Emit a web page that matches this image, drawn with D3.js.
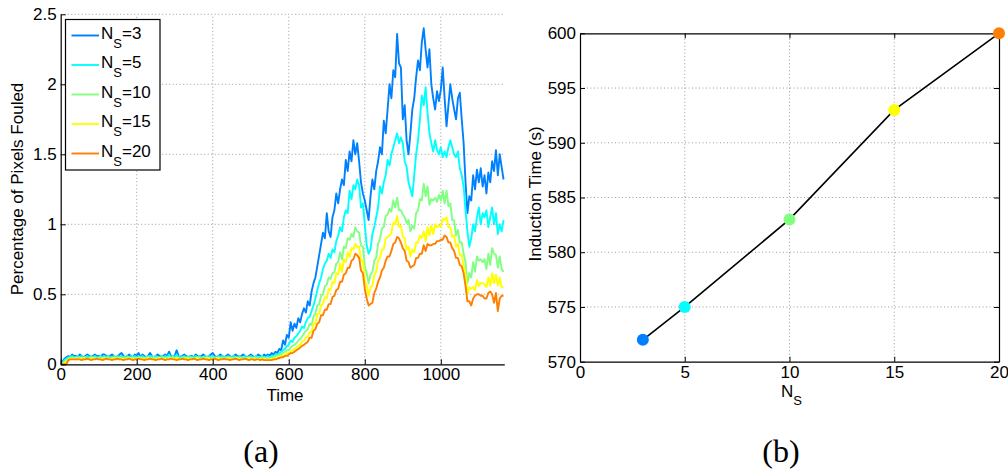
<!DOCTYPE html>
<html><head><meta charset="utf-8">
<script src="https://cdn.jsdelivr.net/npm/d3@7"></script>
<style>
body{margin:0;background:#fff}
svg text{font-family:"Liberation Sans",Arial,Helvetica,sans-serif;fill:#000}
</style>
</head><body>
<svg id="chart" width="1008" height="472"></svg>
<script>
// ---------- DATA ----------
const seriesLabels = ["3", "5", "10", "15", "20"];
const timeStep = 5; // samples every 5 time units, starting at 0

const ns3 = [
  0,.02,.04,.05,.06,.05,.07,.06,.06,.05,
  .07,.06,.05,.06,.07,.06,.05,.06,.07,.06,
  .06,.05,.07,.07,.06,.05,.06,.07,.06,.05,
  .06,.07,.08,.06,.05,.06,.07,.06,.05,.07,
  .06,.08,.05,.07,.06,.05,.06,.08,.06,.05,
  .06,.07,.06,.05,.06,.07,.06,.09,.06,.05,
  .06,.10,.06,.05,.06,.07,.06,.05,.06,.06,
  .05,.07,.06,.05,.06,.07,.06,.05,.06,.07,
  .08,.06,.05,.06,.07,.06,.05,.06,.07,.06,
  .05,.06,.07,.06,.05,.06,.07,.06,.05,.06,
  .07,.06,.05,.06,.07,.06,.05,.07,.06,.07,
  .06,.08,.07,.09,.08,.11,.10,.17,.14,.21,
  .19,.30,.24,.29,.26,.33,.30,.36,.40,.37,
  .45,.42,.52,.58,.62,.70,.78,.86,.94,.90,
  1.08,.95,.91,1.05,1.10,1.22,1.15,1.25,1.32,1.28,
  1.46,1.38,1.52,1.45,1.60,1.50,1.58,1.45,1.30,1.22,
  1.17,1.10,1.03,1.20,1.32,1.25,1.38,1.45,1.55,1.50,
  1.74,1.65,1.82,2.00,1.90,2.10,2.05,2.36,2.15,2.12,
  1.75,1.85,1.60,1.50,1.65,1.82,1.90,2.05,2.17,2.10,
  2.30,2.40,2.25,2.12,2.25,2.00,1.90,1.82,1.95,1.88,
  1.96,2.12,1.90,1.70,1.85,2.00,1.90,1.82,1.75,1.90,
  1.94,1.75,1.58,1.30,1.08,1.20,1.17,1.35,1.25,1.39,
  1.30,1.40,1.27,1.35,1.22,1.37,1.30,1.45,1.38,1.53,
  1.35,1.50,1.41,1.32
];
const ns5 = [
  0,.01,.03,.04,.05,.05,.06,.05,.05,.06,
  .05,.06,.05,.05,.06,.05,.06,.05,.06,.05,
  .05,.06,.05,.06,.05,.06,.05,.05,.06,.05,
  .06,.05,.06,.05,.05,.06,.05,.06,.05,.06,
  .05,.06,.05,.06,.05,.05,.06,.05,.06,.05,
  .06,.05,.05,.06,.05,.06,.05,.07,.05,.06,
  .05,.07,.05,.06,.05,.06,.05,.05,.06,.05,
  .05,.06,.05,.06,.05,.05,.06,.05,.06,.05,
  .06,.05,.05,.06,.05,.06,.05,.05,.06,.05,
  .05,.06,.05,.05,.06,.05,.05,.06,.05,.05,
  .06,.05,.05,.06,.05,.05,.06,.05,.05,.06,
  .05,.06,.06,.07,.07,.08,.09,.10,.11,.13,
  .14,.17,.16,.19,.20,.22,.24,.27,.26,.30,
  .33,.34,.38,.42,.47,.53,.58,.62,.68,.72,
  .74,.79,.76,.82,.80,.88,.92,.98,.95,1.05,
  1.10,1.08,1.24,1.18,1.28,1.25,1.32,1.28,1.12,1.15,
  1.00,.85,.79,.82,.93,.98,1.05,1.12,1.27,1.22,
  1.30,1.35,1.46,1.42,1.50,1.55,1.60,1.65,1.58,1.62,
  1.58,1.45,1.41,1.30,1.25,1.20,1.35,1.50,1.60,1.75,
  1.92,1.85,1.98,1.80,1.65,1.58,1.52,1.60,1.53,1.50,
  1.55,1.48,1.52,1.48,1.55,1.60,1.55,1.50,1.48,1.52,
  1.40,1.35,1.27,1.10,.95,.84,.90,1.00,.95,1.05,
  1.12,1.00,1.08,1.05,1.10,.98,1.05,1.12,1.00,1.08,
  .93,1.00,.95,1.03
];
const ns10 = [
  0,0,.02,.03,.04,.045,.05,.04,.05,.045,
  .05,.04,.045,.05,.045,.04,.05,.045,.05,.04,
  .045,.05,.04,.05,.045,.05,.04,.045,.05,.045,
  .05,.045,.04,.05,.045,.05,.045,.04,.05,.045,
  .04,.05,.045,.05,.04,.045,.05,.045,.04,.05,
  .045,.05,.04,.045,.05,.045,.05,.04,.045,.05,
  .045,.05,.045,.04,.05,.045,.04,.05,.045,.05,
  .04,.045,.05,.045,.04,.05,.045,.05,.04,.045,
  .05,.045,.04,.05,.045,.04,.05,.045,.04,.05,
  .045,.04,.05,.045,.04,.045,.05,.04,.045,.05,
  .045,.04,.05,.045,.04,.045,.05,.04,.045,.04,
  .04,.05,.05,.06,.06,.07,.07,.08,.09,.10,
  .10,.12,.13,.14,.15,.17,.18,.20,.22,.24,
  .25,.29,.28,.34,.36,.42,.43,.49,.50,.56,
  .57,.62,.61,.65,.66,.72,.73,.80,.75,.84,
  .83,.90,.89,.93,.91,.98,.95,.94,.85,.84,
  .70,.65,.58,.64,.66,.74,.76,.86,.90,.97,
  .98,1.06,1.07,1.11,1.09,1.17,1.12,1.19,1.10,1.10,
  1.07,1.05,1.01,1.03,.95,.99,.97,1.08,1.10,1.18,
  1.17,1.29,1.20,1.27,1.14,1.18,1.17,1.19,1.16,1.21,
  1.17,1.24,1.15,1.24,1.13,1.15,1.03,1.03,.92,.96,
  .87,.87,.79,.73,.58,.65,.62,.73,.66,.77,
  .74,.75,.73,.75,.68,.79,.71,.83,.79,.78,
  .69,.77,.68,.66
];
const ns15 = [
  0,0,.01,.02,.03,.04,.04,.04,.04,.04,
  .04,.04,.045,.04,.035,.04,.04,.045,.04,.04,
  .04,.035,.04,.045,.04,.04,.035,.04,.045,.04,
  .04,.045,.04,.035,.04,.04,.045,.04,.04,.035,
  .04,.045,.04,.04,.035,.04,.045,.04,.04,.04,
  .035,.04,.045,.04,.04,.035,.04,.04,.045,.04,
  .04,.045,.04,.035,.04,.04,.045,.04,.04,.035,
  .04,.04,.045,.04,.035,.04,.04,.045,.04,.04,
  .035,.04,.045,.04,.04,.035,.04,.04,.045,.04,
  .04,.035,.04,.045,.04,.04,.035,.04,.04,.045,
  .04,.04,.035,.04,.04,.035,.04,.04,.035,.035,
  .035,.04,.04,.045,.05,.05,.06,.06,.07,.08,
  .08,.09,.10,.11,.12,.13,.14,.16,.17,.19,
  .20,.23,.23,.29,.29,.36,.36,.42,.43,.48,
  .47,.54,.53,.59,.58,.65,.64,.72,.66,.75,
  .73,.80,.77,.83,.82,.86,.84,.84,.74,.74,
  .60,.56,.49,.55,.56,.64,.66,.74,.76,.82,
  .82,.90,.91,.92,.94,1.01,1.00,1.06,.98,.99,
  .91,.90,.82,.84,.77,.82,.80,.87,.87,.92,
  .90,.95,.88,.98,.92,.99,.93,1.00,.98,.99,
  .98,1.04,1.03,1.05,.98,.98,.91,.92,.84,.86,
  .78,.78,.70,.64,.50,.55,.54,.55,.53,.60,
  .56,.58,.58,.57,.55,.62,.56,.65,.58,.64,
  .56,.62,.55,.55
];
const ns20 = [
  0,0,0,0,.03,.035,.035,.035,.035,.035,
  .035,.03,.035,.035,.04,.035,.03,.035,.035,.04,
  .035,.035,.03,.035,.04,.035,.035,.03,.035,.035,
  .04,.035,.035,.03,.035,.035,.04,.035,.03,.035,
  .035,.04,.035,.035,.03,.035,.035,.04,.035,.035,
  .03,.035,.035,.04,.035,.03,.035,.035,.04,.035,
  .035,.03,.035,.035,.04,.035,.035,.03,.035,.035,
  .04,.035,.03,.035,.035,.04,.035,.035,.03,.035,
  .035,.04,.035,.03,.035,.035,.04,.035,.035,.03,
  .035,.035,.04,.035,.03,.035,.035,.04,.035,.03,
  .035,.035,.03,.035,.035,.03,.035,.03,.03,.03,
  .03,.03,.035,.035,.04,.045,.05,.05,.06,.06,
  .07,.08,.08,.09,.10,.11,.12,.13,.14,.15,
  .16,.19,.19,.24,.25,.29,.30,.35,.35,.39,
  .39,.43,.43,.48,.49,.53,.54,.59,.59,.64,
  .65,.69,.69,.74,.75,.79,.78,.76,.67,.65,
  .54,.47,.42,.43,.44,.51,.54,.59,.62,.67,
  .69,.74,.77,.77,.81,.86,.87,.91,.90,.87,
  .83,.81,.74,.73,.69,.70,.71,.76,.76,.79,
  .79,.85,.81,.86,.85,.85,.86,.86,.88,.88,
  .89,.89,.92,.91,.87,.87,.83,.81,.76,.76,
  .71,.70,.65,.56,.45,.45,.42,.47,.49,.50,
  .50,.49,.49,.47,.47,.51,.52,.50,.44,.51,
  .38,.47,.49,.49
];
const foulingSeries = [ns3, ns5, ns10, ns15, ns20];

const nsValues = [3, 5, 10, 15, 20];
const inductionTimes = [572, 575, 583, 593, 600];

const leftXTicks = [0, 200, 400, 600, 800, 1000];
const leftYTicks = [0, 0.5, 1, 1.5, 2, 2.5];
const rightXTicks = [0, 5, 10, 15, 20];
const rightYTicks = [570, 575, 580, 585, 590, 595, 600];

// ---------- STYLE ----------
const colors = ["#0080ff", "#00ffff", "#80ff80", "#ffff00", "#ff8000"];
const FONT = 17;
const gridColor = "#9a9a9a";
const fmt = d3.format("~g");

const svg = d3.select("#chart");
svg.append("rect").attr("width", 1008).attr("height", 472).attr("fill", "#fff");

function grid(g, xs, ys, xt, yt) {
  g.selectAll(null).data(xt).join("line")
    .attr("x1", d => xs(d)).attr("x2", d => xs(d))
    .attr("y1", ys.range()[0]).attr("y2", ys.range()[1])
    .attr("stroke", gridColor).attr("stroke-dasharray", "1,2.5");
  g.selectAll(null).data(yt).join("line")
    .attr("y1", d => ys(d)).attr("y2", d => ys(d))
    .attr("x1", xs.range()[0]).attr("x2", xs.range()[1])
    .attr("stroke", gridColor).attr("stroke-dasharray", "1,2.5");
}
function styleAxis(g) {
  g.attr("font-size", FONT).attr("font-family", '"Liberation Sans", Arial, sans-serif');
  g.selectAll("path.domain").attr("stroke", "#000").attr("stroke-width", 1.2);
  g.selectAll(".tick line").attr("stroke", "#000");
  g.selectAll(".tick text").attr("fill", "#000");
}

// ---------- LEFT PANEL (a) ----------
const xL = d3.scaleLinear().domain([0, 1167]).range([60.7, 504.3]);
const yL = d3.scaleLinear().domain([0, 2.5]).range([364.3, 14.3]);
const gL = svg.append("g");
grid(gL, xL, yL, leftXTicks.filter(d => d > 0), leftYTicks.filter(d => d > 0));

const line = d3.line().x(d => xL(d[0])).y(d => yL(d[1]));
foulingSeries.forEach((s, k) => {
  gL.append("path")
    .datum(s.map((v, i) => [i * timeStep, v]))
    .attr("d", line).attr("fill", "none")
    .attr("stroke", colors[k]).attr("stroke-width", 1.9)
    .attr("stroke-linejoin", "round");
});

gL.append("g").attr("transform", `translate(0,${yL(0)})`)
  .call(d3.axisBottom(xL).tickValues(leftXTicks).tickFormat(fmt).tickSizeInner(-5).tickSizeOuter(0).tickPadding(4))
  .call(styleAxis);
gL.append("g").attr("transform", `translate(${xL(0)},0)`)
  .call(d3.axisLeft(yL).tickValues(leftYTicks).tickFormat(fmt).tickSizeInner(-5).tickSizeOuter(0).tickPadding(4))
  .call(styleAxis);

gL.append("text").attr("x", 285).attr("y", 401).attr("text-anchor", "middle")
  .attr("font-size", FONT).text("Time");
gL.append("text").attr("transform", "translate(23,189) rotate(-90)").attr("text-anchor", "middle")
  .attr("font-size", FONT).text("Percentage of Pixels Fouled");

// legend
const leg = gL.append("g");
leg.append("rect").attr("x", 65.5).attr("y", 19.5).attr("width", 94.5).attr("height", 150.5)
  .attr("fill", "#fff").attr("stroke", "#000").attr("stroke-width", 1.2);
seriesLabels.forEach((lab, k) => {
  const by = 38.5 + k * 29.5;
  leg.append("line").attr("x1", 71.5).attr("x2", 99).attr("y1", by - 3).attr("y2", by - 3)
    .attr("stroke", colors[k]).attr("stroke-width", 1.9);
  const t = leg.append("text").attr("x", 101).attr("y", by).attr("font-size", FONT);
  t.append("tspan").text("N");
  t.append("tspan").attr("font-size", 13).attr("dy", 9).text("S");
  t.append("tspan").attr("dy", -9).text("=" + lab);
});

// ---------- RIGHT PANEL (b) ----------
const xR = d3.scaleLinear().domain([0, 20]).range([580, 999]);
const yR = d3.scaleLinear().domain([570, 600]).range([361.7, 33.3]);
const gR = svg.append("g");
grid(gR, xR, yR, rightXTicks.filter(d => d > 0 && d < 20), rightYTicks.filter(d => d > 570 && d < 600));

gR.append("g").attr("transform", `translate(0,${yR(570)})`)
  .call(d3.axisBottom(xR).tickValues(rightXTicks).tickFormat(fmt).tickSizeInner(-5).tickSizeOuter(0).tickPadding(4))
  .call(styleAxis);
gR.append("g").attr("transform", `translate(${xR(0)},0)`)
  .call(d3.axisLeft(yR).tickValues(rightYTicks).tickFormat(fmt).tickSizeInner(-5).tickSizeOuter(0).tickPadding(4))
  .call(styleAxis);
gR.append("g").attr("transform", `translate(0,${yR(600)})`)
  .call(d3.axisTop(xR).tickValues(rightXTicks).tickFormat("").tickSizeInner(-5).tickSizeOuter(0))
  .call(styleAxis);
gR.append("g").attr("transform", `translate(${xR(20)},0)`)
  .call(d3.axisRight(yR).tickValues(rightYTicks).tickFormat("").tickSizeInner(-5).tickSizeOuter(0))
  .call(styleAxis);

const pts = nsValues.map((n, i) => [n, inductionTimes[i]]);
gR.append("path").datum(pts)
  .attr("d", d3.line().x(d => xR(d[0])).y(d => yR(d[1])))
  .attr("fill", "none").attr("stroke", "#000").attr("stroke-width", 1.6);
gR.selectAll("circle").data(pts).join("circle")
  .attr("cx", d => xR(d[0])).attr("cy", d => yR(d[1])).attr("r", 6)
  .attr("fill", (d, i) => colors[i]);

const xl = gR.append("text").attr("x", 781).attr("y", 397).attr("font-size", FONT);
xl.append("tspan").text("N");
xl.append("tspan").attr("font-size", 13).attr("dy", 8).text("S");
gR.append("text").attr("transform", "translate(541,194) rotate(-90)").attr("text-anchor", "middle")
  .attr("font-size", FONT).text("Induction Time (s)");

// ---------- PANEL CAPTIONS ----------
svg.append("text").attr("x", 261).attr("y", 462).attr("text-anchor", "middle")
  .style("font-family", '"Liberation Serif", "DejaVu Serif", serif').attr("font-size", 32).text("(a)");
svg.append("text").attr("x", 781).attr("y", 462).attr("text-anchor", "middle")
  .style("font-family", '"Liberation Serif", "DejaVu Serif", serif').attr("font-size", 32).text("(b)");
</script>
</body></html>
